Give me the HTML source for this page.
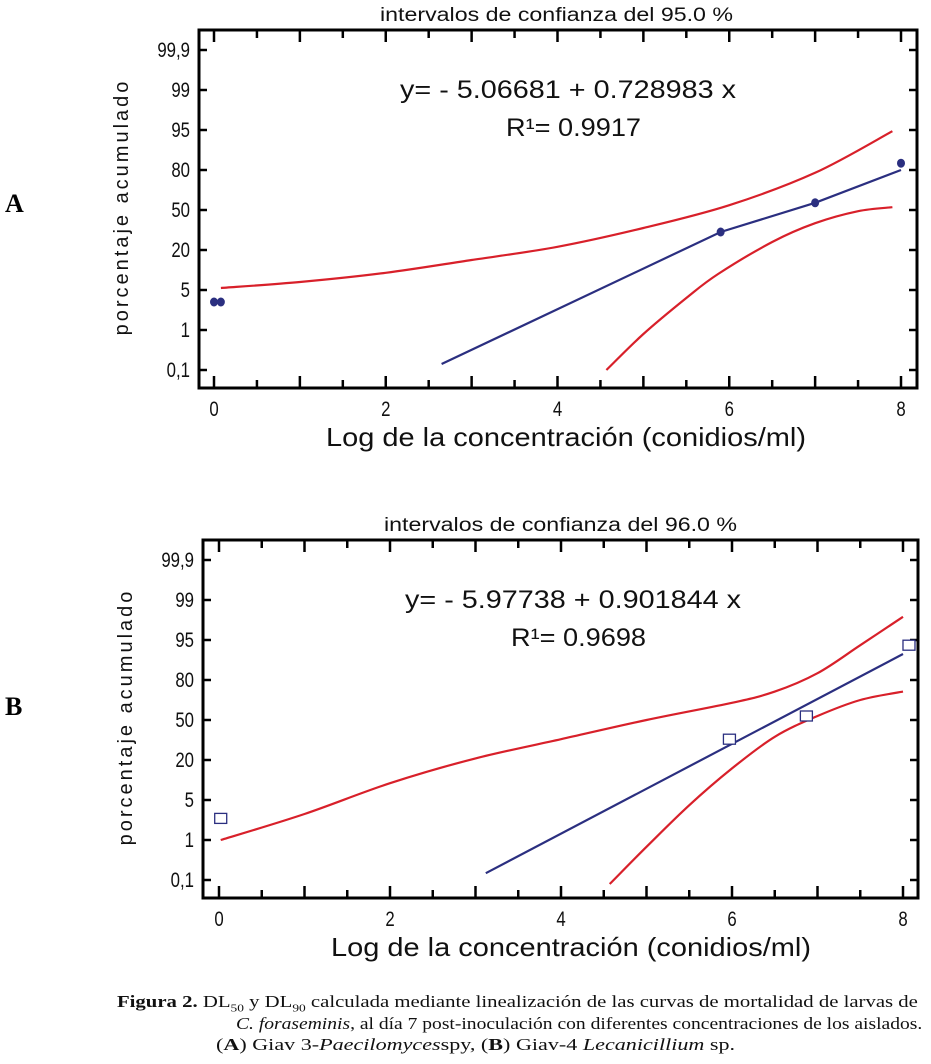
<!DOCTYPE html>
<html><head><meta charset="utf-8">
<style>
body{margin:0;background:#fff;width:931px;height:1064px;overflow:hidden;position:relative}
svg{position:absolute;left:0;top:0}
.cap{position:absolute;font-family:"Liberation Serif",serif;font-size:17px;color:#111;white-space:nowrap;transform-origin:0 0}
</style></head>
<body>
<svg id="chart" width="931" height="1000"
 font-family="Liberation Sans, sans-serif"></svg>
<div class="cap" style="left:117px;top:992px;transform:scaleX(1.22)"><b>Figura 2.</b> DL<sub style="font-size:11px">50</sub> y DL<sub style="font-size:11px">90</sub> calculada mediante linealización de las curvas de mortalidad de larvas de</div>
<div class="cap" style="left:236px;top:1014px;transform:scaleX(1.15)"><i>C. foraseminis</i>, al día 7 post-inoculación con diferentes concentraciones de los aislados.</div>
<div class="cap" style="left:216px;top:1035px;transform:scaleX(1.3)">(<b>A</b>) Giav 3-<i>Paecilomyces</i>spy, (<b>B</b>) Giav-4 <i>Lecanicillium</i> sp.</div>
<script>
// y values are in probability-axis index units (0 = 0,1 ; 1 = 1 ; 2 = 5 ; ... 8 = 99,9)
const yTickLabels = ["0,1","1","5","20","50","80","95","99","99,9"];
const xTickLabels = ["0","2","4","6","8"];
const xTickValues = [0,2,4,6,8];
// Chart A
const aPointsX = [0, 0.08, 5.9, 7.0, 8.0];
const aPointsY = [1.7, 1.7, 3.45, 4.18, 5.17];
const aFitX = [2.65, 5.9, 7.0, 8.0];
const aFitY = [0.15, 3.45, 4.18, 5.0];
const aUpperX = [0.08, 1, 2, 3, 4, 5, 6, 7, 7.9];
const aUpperY = [2.05, 2.2, 2.43, 2.75, 3.08, 3.55, 4.12, 4.93, 5.97];
const aLowerX = [4.57, 5, 5.5, 5.87, 6.5, 7, 7.5, 7.9];
const aLowerY = [0.0, 0.9, 1.8, 2.4, 3.2, 3.67, 3.97, 4.07];
// Chart B
const bPointsX = [0.02, 5.97, 6.87, 8.07];
const bPointsY = [1.54, 3.52, 4.1, 5.87];
const bFitX = [3.12, 8.0];
const bFitY = [0.17, 5.65];
const bUpperX = [0.02, 1, 2, 3, 4, 5, 6, 6.5, 7, 7.5, 8];
const bUpperY = [1.0, 1.65, 2.42, 3.04, 3.52, 4.0, 4.43, 4.71, 5.17, 5.87, 6.58];
const bLowerX = [4.57, 5, 5.5, 6, 6.5, 7, 7.5, 8];
const bLowerY = [-0.1, 0.83, 1.87, 2.79, 3.58, 4.1, 4.5, 4.71];

const NS="http://www.w3.org/2000/svg";
const svg=document.getElementById('chart');
function mk(tag,attrs,parent){const e=document.createElementNS(NS,tag);for(const k in attrs)e.setAttribute(k,attrs[k]);(parent||svg).appendChild(e);return e;}
function smooth(pts){let d='M'+pts[0][0].toFixed(1)+','+pts[0][1].toFixed(1);
  for(let i=0;i<pts.length-1;i++){const p0=pts[i-1]||pts[i],p1=pts[i],p2=pts[i+1],p3=pts[i+2]||p2;
    const c1=[p1[0]+(p2[0]-p0[0])/6,p1[1]+(p2[1]-p0[1])/6],c2=[p2[0]-(p3[0]-p1[0])/6,p2[1]-(p3[1]-p1[1])/6];
    d+=` C${c1[0].toFixed(1)},${c1[1].toFixed(1)} ${c2[0].toFixed(1)},${c2[1].toFixed(1)} ${p2[0].toFixed(1)},${p2[1].toFixed(1)}`;}
  return d;}

function drawChart(cfg){
  const g=mk('g',{});
  
  
  const sx=v=>cfg.x0+(cfg.x8-cfg.x0)*v/8;
  const sy=i=>cfg.y0-40*i;
  const T=cfg.top,B=cfg.bottom,L=cfg.left,R=cfg.right;
  let t=mk('text',{x:cfg.tx,y:T-9,'font-size':19,fill:'#111',textLength:353,lengthAdjust:'spacingAndGlyphs'},g);
  t.textContent=cfg.title;
  
  
  let f=mk('rect',{x:L,y:T,width:R-L,height:B-T,fill:'none',stroke:'#000','stroke-width':3},g);
  
  
  for(let k=0;k<=16;k++){const x=sx(k*0.5);const len=(k%2==0)?12:8;
    mk('line',{x1:x,y1:T,x2:x,y2:T+len,stroke:'#000','stroke-width':2.5},g);
    mk('line',{x1:x,y1:B,x2:x,y2:B-len,stroke:'#000','stroke-width':2.5},g);}
  xTickValues.forEach((v,i)=>{const tx=mk('text',{x:sx(v),y:B+28,'text-anchor':'middle','font-size':21,fill:'#111',transform:`translate(${sx(v)*0.2},0) scale(0.8,1)`},g);
    tx.textContent=xTickLabels[i];
    
    });
  yTickLabels.forEach((lab,i)=>{const y=sy(i);
    mk('line',{x1:L,y1:y,x2:L+8,y2:y,stroke:'#000','stroke-width':2.5},g);
    mk('line',{x1:R,y1:y,x2:R-8,y2:y,stroke:'#000','stroke-width':2.5},g);
    const ty=mk('text',{x:L-9,y:y+7,'text-anchor':'end','font-size':21,fill:'#111',transform:`translate(${(L-9)*0.2},0) scale(0.8,1)`},g);
    ty.textContent=lab;
    
    });
  let xt=mk('text',{x:cfg.xtx,y:B+58,'font-size':26,fill:'#111',textLength:480,lengthAdjust:'spacingAndGlyphs'},g);
  xt.textContent='Log de la concentración (conidios/ml)';
  
  
  const cy=(T+B)/2-2;
  let yt=mk('text',{x:0,y:0,'text-anchor':'middle','font-size':20,'letter-spacing':'3',fill:'#111',
    transform:`translate(${L-71},${cy}) rotate(-90)`},g);
  yt.textContent='porcentaje acumulado';
  
  
  let e1=mk('text',{x:cfg.eqx,y:T+68,'font-size':25,fill:'#111',textLength:336,lengthAdjust:'spacingAndGlyphs'},g);
  e1.textContent=cfg.eq;
  
  
  let e2=mk('text',{x:cfg.eqx+106,y:T+106,'font-size':25,fill:'#111',textLength:135,lengthAdjust:'spacingAndGlyphs'},g);
  e2.textContent=cfg.r2;
  
  
  const line=(xs,ys,col,name)=>{const pts=xs.map((v,i)=>[sx(v),sy(ys[i])]);
    const p=mk('path',{d:smooth(pts),fill:'none',stroke:col,'stroke-width':2.2,'stroke-linejoin':'round'},g);
    
    };
  line(cfg.ux,cfg.uy,'#d8202a','upper-confidence-curve');
  line(cfg.lx,cfg.ly,'#d8202a','lower-confidence-curve');
  const fd=cfg.fx.map((v,i)=>(i?'L':'M')+sx(v).toFixed(1)+','+sy(cfg.fy[i]).toFixed(1)).join(' ');
  const fp=mk('path',{d:fd,fill:'none',stroke:'#2b2f80','stroke-width':2.2},g);
  
  
  cfg.px.forEach((v,i)=>{let m;
    if(cfg.square){m=mk('rect',{x:sx(v)-6,y:sy(cfg.py[i])-5,width:12,height:10,fill:'#fff',stroke:'#2b2f80','stroke-width':1.3},g);}
    else{m=mk('ellipse',{cx:sx(v),cy:sy(cfg.py[i]),rx:4,ry:4.5,fill:'#2b2f80'},g);}
    
    });
}
drawChart({name:'chart-a',title:'intervalos de confianza del 95.0 %',tx:380,xtx:326,left:199,right:917,top:30,bottom:388,x0:214,x8:901,y0:370,
  eq:'y= - 5.06681 + 0.728983 x',r2:'R¹= 0.9917',eqx:400,
  px:aPointsX,py:aPointsY,fx:aFitX,fy:aFitY,ux:aUpperX,uy:aUpperY,lx:aLowerX,ly:aLowerY,square:false});
drawChart({name:'chart-b',title:'intervalos de confianza del 96.0 %',tx:384,xtx:331,left:203,right:918,top:540,bottom:898,x0:219,x8:903,y0:880,
  eq:'y= - 5.97738 + 0.901844 x',r2:'R¹= 0.9698',eqx:405,
  px:bPointsX,py:bPointsY,fx:bFitX,fy:bFitY,ux:bUpperX,uy:bUpperY,lx:bLowerX,ly:bLowerY,square:true});
let la=mk('text',{x:5,y:212,'font-size':26,'font-weight':'bold','font-family':'Liberation Serif, serif',fill:'#000'});
la.textContent='A';


let lb=mk('text',{x:5,y:715,'font-size':26,'font-weight':'bold','font-family':'Liberation Serif, serif',fill:'#000'});
lb.textContent='B';


</script>
</body></html>
